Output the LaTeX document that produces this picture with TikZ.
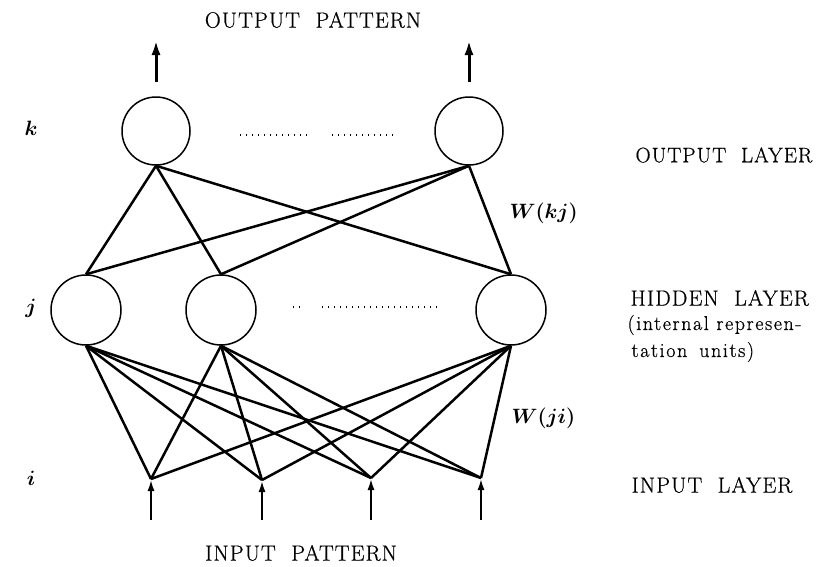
\documentclass[tikz,border=0pt]{standalone}
\usepackage{fontspec}
\setmainfont{Latin Modern Roman}
\usetikzlibrary{arrows.meta}
\begin{document}
\begin{tikzpicture}[x=1pt,y=-1pt,
  unit/.style={circle,draw,line width=1.5pt,inner sep=0pt,minimum size=#1},
  conn/.style={line width=2.5pt},
  inarrow/.style={line width=2.5pt,-{Latex[length=12pt,width=7pt]}},
  outarrow/.style={line width=3pt,-{Latex[length=15pt,width=9pt]}},
  dotrow/.style={line width=1.6pt,dash pattern=on 1.4pt off 4.6pt},
  caps/.style={font=\fontsize{22}{26}\selectfont\addfontfeatures{LetterSpace=5,FakeBold=0.6}},
  capsb/.style={font=\fontsize{21}{25}\selectfont\addfontfeatures{LetterSpace=5,FakeBold=0.6}},
  sub/.style={font=\fontsize{20}{24}\selectfont\addfontfeatures{LetterSpace=8,FakeBold=0.6}},
  lab/.style={font=\fontsize{20}{24}\selectfont\boldmath}]
\useasboundingbox (0,0) rectangle (827,566);
% units
\node[unit=68pt] (o1) at (156,131) {};
\node[unit=68pt] (o2) at (469,131) {};
\node[unit=70pt] (h1) at (86,310) {};
\node[unit=70pt] (h2) at (221,310) {};
\node[unit=70pt] (h3) at (511,310) {};
\coordinate (i1) at (151,479);
\coordinate (i2) at (262,480);
\coordinate (i3) at (371,478);
\coordinate (i4) at (481,478);
\coordinate (b1) at (151,520);
\coordinate (b2) at (262,520);
\coordinate (b3) at (371,520);
\coordinate (b4) at (481,520);
\coordinate (t1) at (156,40);
\coordinate (t2) at (469,40);
% output arrows
\draw[outarrow] ([yshift=14pt]o1.north) -- (t1);
\draw[outarrow] ([yshift=14pt]o2.north) -- (t2);
% hidden -> output
\foreach \o in {o1,o2}
  \foreach \h in {h1,h2,h3}
    \draw[conn] (\o.south) -- (\h.north);
% input -> hidden
\foreach \h in {h1,h2,h3}
  \foreach \i in {i1,i2,i3,i4}
    \draw[conn] (\h.south) -- (\i);
% input arrows
\foreach \n in {1,2,3,4}
  \draw[inarrow] (b\n) -- (i\n);
% dotted rows
\coordinate (d1a) at (240,135); \coordinate (d1b) at (308,135);
\coordinate (d2a) at (332,135); \coordinate (d2b) at (397,135);
\coordinate (d3a) at (293,307); \coordinate (d3b) at (303,307);
\coordinate (d4a) at (322,307); \coordinate (d4b) at (438,307);
\draw[dotrow] (d1a) -- (d1b);
\draw[dotrow] (d2a) -- (d2b);
\draw[dotrow] (d3a) -- (d3b);
\draw[dotrow] (d4a) -- (d4b);
% texts
\node[caps] (op) at (313,20) {OUTPUT\ \ PATTERN};
\node[caps] (ip) at (301,553) {INPUT\ \ PATTERN};
\node[lab] (lk) at (31,128) {$k$};
\node[lab] (lj) at (31,308) {$j$};
\node[lab] (li) at (31,478) {$i$};
\node[capsb,anchor=west] (ol) at (632,155) {OUTPUT\ \ LAYER};
\node[caps,anchor=west] (hl) at (627,298) {HIDDEN\ \ LAYER};
\node[sub,anchor=west] (hs1) at (624,325) {(internal represen-};
\node[sub,anchor=west] (hs2) at (628,352) {tation\hspace{12pt}units)};
\node[caps,anchor=west] (il) at (628,485) {INPUT\ \ LAYER};
\node[lab,anchor=west] (wkj) at (506,213) {$W(kj)$};
\node[lab,anchor=west] (wji) at (508,418) {$W(ji)$};
\end{tikzpicture}
\end{document}
